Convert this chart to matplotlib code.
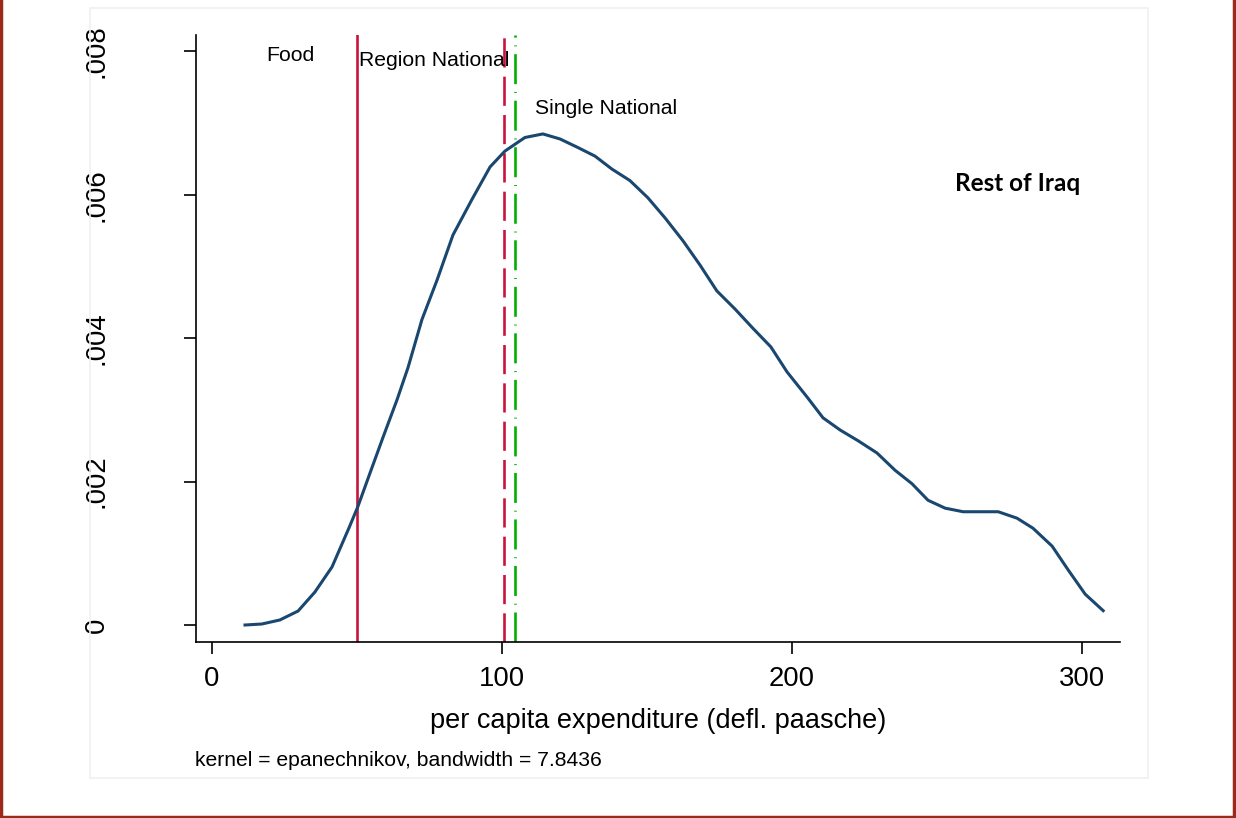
import matplotlib
matplotlib.use("Agg")
import matplotlib.pyplot as plt
from matplotlib.patches import Rectangle

plt.rcParams['font.family'] = ['Liberation Sans', 'DejaVu Sans']
plt.rcParams['lines.scale_dashes'] = False

# kernel density estimate
expenditure = [11.5, 17.3, 23.5, 29.8, 35.6, 41.5, 47.3, 50.4, 54.6, 59.1, 63.9, 67.7,
               72.5, 77.7, 83.2, 89.8, 96.0, 101.1, 108.0, 114.2, 120.1, 126.3, 132.2,
               138.0, 144.2, 150.4, 156.3, 162.5, 168.4, 174.2, 180.4, 186.6, 192.8,
               198.4, 205.3, 210.8, 216.7, 222.9, 229.4, 235.6, 241.5, 247.0, 252.9,
               259.1, 265.0, 271.2, 277.7, 283.2, 289.8, 295.3, 301.2, 307.4]
density = [0.0, 0.000014, 0.00007, 0.000195, 0.00046, 0.00081, 0.00135, 0.00165,
           0.00212, 0.00262, 0.00314, 0.00359, 0.00426, 0.00481, 0.00544, 0.00594,
           0.00639, 0.00661, 0.00680, 0.00685, 0.00678, 0.00666, 0.00654, 0.00636,
           0.00620, 0.00596, 0.00568, 0.00536, 0.00502, 0.00466, 0.00441, 0.00414,
           0.00388, 0.00353, 0.00318, 0.00289, 0.00272, 0.00257, 0.00240, 0.00216,
           0.00197, 0.00174, 0.00163, 0.00158, 0.00158, 0.00158, 0.00149, 0.00135,
           0.00110, 0.00077, 0.00043, 0.00020]

# poverty lines
line_names = ['Food', 'Region National', 'Single National']
line_values = [50.2, 100.8, 104.7]

x_ticks = [0, 100, 200, 300]
y_ticks = [0, 0.002, 0.004, 0.006, 0.008]
y_ticklabels = ['0', '.002', '.004', '.006', '.008']

fig = plt.figure(figsize=(12.36, 8.18), dpi=100)
W, H = 1236, 818
ax = fig.add_axes([196 / W, 1 - 642 / H, (1120 - 196) / W, (642 - 35) / H])

navy = '#1a476f'
red = '#c8143c'
green = '#00b000'

ax.plot(expenditure, density, color=navy, lw=2.2, solid_joinstyle='round', zorder=3)

ax.axvline(line_values[0], color=red, lw=1.9, zorder=2)
ax.axvline(line_values[1], color=red, lw=1.9, linestyle=(0, (21, 6.6)), zorder=2)
ax.axvline(line_values[2], color=green, lw=1.9, linestyle=(0, (21.6, 5.6, 0.7, 5.6)), zorder=2)

ax.text(18.7, 0.00794, line_names[0], fontsize=15.3, va='center', ha='left')
ax.text(50.8, 0.00788, line_names[1], fontsize=15.2, va='center', ha='left')
ax.text(111.5, 0.00721, line_names[2], fontsize=15.2, va='center', ha='left')
ax.text(0.889, 0.756, 'Rest of Iraq', transform=ax.transAxes, fontsize=17.5,
        fontweight='bold', family=['Lato', 'DejaVu Sans'], ha='center', va='center')

ax.set_xlim(-5.4, 313.2)
ax.set_ylim(-0.000237, 0.00823)
ax.set_xticks(x_ticks)
ax.set_yticks(y_ticks)
ax.set_yticklabels(y_ticklabels)
ax.tick_params(axis='x', length=8.6, width=1.2, labelsize=19.8, pad=9)
ax.tick_params(axis='y', length=8.6, width=1.2, labelsize=19.8, pad=53.5, labelrotation=90)
for lab in ax.get_yticklabels():
    lab.set_va('center')

for side in ['top', 'right']:
    ax.spines[side].set_visible(False)
for side in ['left', 'bottom']:
    ax.spines[side].set_linewidth(1.2)

ax.set_xlabel('per capita expenditure (defl. paasche)', fontsize=19.5, labelpad=11)

fig.text(195 / W, 1 - 760 / H, 'kernel = epanechnikov, bandwidth = 7.8436',
         fontsize=15.2, ha='left', va='center')

# faint plot region outline and dark red frame
fig.patches.append(Rectangle((90 / W, 1 - 778 / H), (1148 - 90) / W, (778 - 8) / H,
                             transform=fig.transFigure, fill=False,
                             edgecolor='#eef1f4', lw=1.2))
border = '#9c2a1a'
fig.add_artist(plt.Line2D([1.5 / W, 1.5 / W], [0, 1], transform=fig.transFigure,
                          color=border, lw=2.5))
fig.add_artist(plt.Line2D([1 - 2 / W, 1 - 2 / W], [0, 1], transform=fig.transFigure,
                          color=border, lw=2.5))
fig.add_artist(plt.Line2D([0, 1], [1.2 / H, 1.2 / H], transform=fig.transFigure,
                          color=border, lw=2.5))

fig.savefig('out.png', dpi=100)
